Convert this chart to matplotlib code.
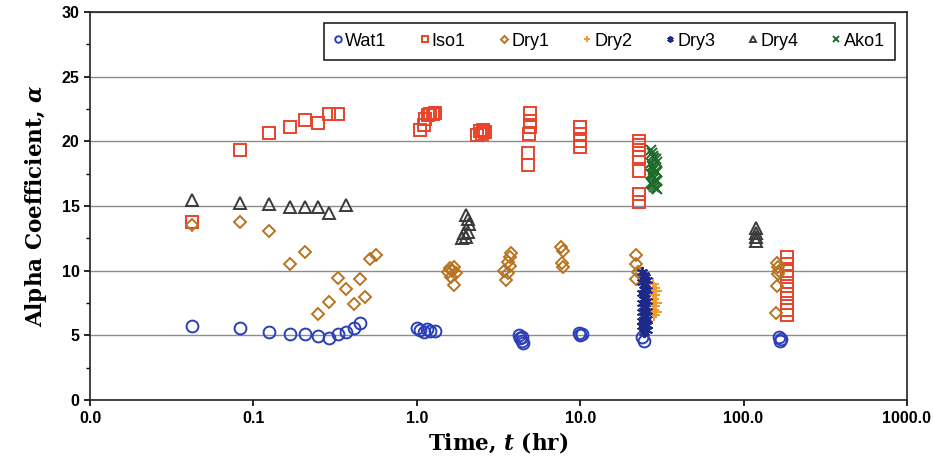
import numpy as np
import matplotlib
matplotlib.use("Agg")
import matplotlib.pyplot as plt
import matplotlib.ticker as mticker

plt.rcParams["mathtext.fontset"] = "dejavuserif"

# ---- data (time in hr, alpha) ----
wat1_t = [0.042, 0.083, 0.125, 0.167, 0.208, 0.25, 0.29, 0.33, 0.37, 0.41, 0.45,
          1.0, 1.05, 1.1, 1.15, 1.2, 1.3,
          4.2, 4.3, 4.4, 4.5, 4.4,
          9.8, 10.0, 10.2,
          24.0, 24.5,
          165, 168, 170]
wat1_a = [5.75, 5.6, 5.3, 5.15, 5.1, 4.95, 4.8, 5.15, 5.25, 5.55, 5.95,
          5.6, 5.45, 5.3, 5.5, 5.35, 5.35,
          5.0, 4.8, 4.6, 4.4, 4.9,
          5.2, 5.0, 5.1,
          4.9, 4.6,
          4.9, 4.6, 4.75]

iso1_t = [0.042, 0.083, 0.125, 0.167, 0.208, 0.25, 0.29, 0.33,
          1.05, 1.1, 1.12, 1.17, 1.2, 1.25, 1.3,
          2.35, 2.45, 2.5, 2.55, 2.6,
          4.9, 4.9, 4.9, 4.85, 4.8, 4.8,
          10.0, 10.0, 10.0, 10.0,
          23, 23, 23, 23, 23, 23, 23,
          185, 185, 185, 185, 185, 185, 185, 185, 185]
iso1_a = [13.8, 19.35, 20.65, 21.1, 21.65, 21.4, 22.15, 22.15,
          20.9, 21.3, 21.7, 22.0, 22.1, 22.1, 22.2,
          20.5, 20.8, 20.6, 20.9, 20.7,
          22.2, 21.6, 21.1, 20.6, 19.1, 18.2,
          21.1, 20.6, 20.0, 19.6,
          20.0, 19.7, 19.3, 18.8, 17.7, 15.9, 15.3,
          11.1, 10.5, 10.0, 9.5, 8.8, 8.2, 7.5, 7.0, 6.6]

dry1_t = [0.042, 0.083, 0.125, 0.167, 0.208, 0.25, 0.29, 0.33, 0.37, 0.41, 0.45, 0.48, 0.52, 0.56,
          1.55, 1.6, 1.65, 1.7, 1.75, 1.7, 1.62,
          3.4, 3.5, 3.6, 3.7, 3.8, 3.6, 3.7,
          7.6, 7.8, 7.7, 7.8,
          22, 22, 22.5, 22,
          160, 162, 165, 163, 160, 158]
dry1_a = [13.55, 13.8, 13.1, 10.5, 11.45, 6.65, 7.6, 9.45, 8.6, 7.4, 9.4, 7.95, 10.9, 11.2,
          9.9, 10.2, 10.0, 10.3, 9.8, 8.9, 9.5,
          10.0, 9.3, 10.7, 11.1, 11.4, 9.8, 10.4,
          11.8, 11.5, 10.6, 10.3,
          11.2, 10.5, 9.9, 9.4,
          10.6, 10.3, 10.0, 9.75, 8.85, 6.7]

dry2_t = [28, 28.5, 29, 28.5, 28, 29, 28.5, 28, 29, 28.5]
dry2_a = [9.0, 8.7, 8.4, 8.1, 7.8, 7.5, 7.3, 7.0, 6.8, 6.6]

dry3_t = [24, 24.5, 25, 25.5, 24, 24.5, 25, 25.5, 24, 24.5, 25, 25.5, 24, 24.5, 25,
          25.5, 24, 24.5, 25, 25.5, 24, 24.5, 25, 25.5, 24, 24.5, 25, 25.5, 24.5, 25]
dry3_a = [9.9, 9.7, 9.5, 9.3, 9.1, 8.9, 8.7, 8.5, 8.3, 8.1, 7.9, 7.7, 7.5, 7.3, 7.1,
          6.9, 6.8, 6.6, 6.4, 6.3, 6.1, 6.0, 5.9, 5.8, 5.7, 5.6, 5.5, 5.4, 5.3, 6.2]

dry4_t = [0.042, 0.083, 0.125, 0.167, 0.208, 0.25, 0.29, 0.37,
          2.0, 2.05, 2.1, 1.95, 1.9, 2.0, 2.05,
          120, 120, 120, 120]
dry4_a = [15.45, 15.25, 15.15, 14.95, 14.95, 14.95, 14.5, 15.1,
          14.3, 14.0, 13.6, 12.9, 12.5, 12.6, 13.0,
          13.3, 12.9, 12.6, 12.3]

ako1_t = [27, 27.5, 28, 28.5, 29, 29.5, 27, 27.5, 28, 28.5, 29, 29.5,
          27, 27.5, 28, 28.5, 29, 29.5, 27, 27.5, 28, 28.5, 29, 29.5, 28]
ako1_a = [19.3, 19.1, 18.9, 18.7, 18.6, 18.4, 18.3, 18.1, 18.0, 17.9, 17.7, 17.6,
          17.5, 17.4, 17.3, 17.2, 17.0, 16.9, 16.8, 16.7, 16.6, 16.5, 16.4, 16.3, 17.8]

series = [
    ("Wat1", wat1_t, wat1_a, "o", "#2a3fb8", 8.5),
    ("Iso1", iso1_t, iso1_a, "s", "#e8432b", 8.5),
    ("Dry1", dry1_t, dry1_a, "D", "#b87420", 6.5),
    ("Dry2", dry2_t, dry2_a, "+", "#f39a2a", 8),
    ("Dry3", dry3_t, dry3_a, (6, 2, 0), "#1e2a8a", 8),
    ("Dry4", dry4_t, dry4_a, "^", "#3a3a3a", 8.5),
    ("Ako1", ako1_t, ako1_a, "x", "#1f6b2c", 7),
]

fig = plt.figure(figsize=(9.33, 4.61), dpi=100)
ax = fig.add_axes([0.0965, 0.132, 0.8755, 0.842])

for name, t, a, mk, col, ms in series:
    ax.plot(t, a, linestyle="none", marker=mk, markersize=ms,
            markerfacecolor="none", markeredgecolor=col, markeredgewidth=1.4,
            color=col, label=name, zorder=3)

ax.set_xscale("log")
ax.set_xlim(0.01, 1000)
ax.set_ylim(0, 30)
ax.xaxis.set_major_locator(mticker.FixedLocator([0.01, 0.1, 1, 10, 100, 1000]))
ax.xaxis.set_minor_locator(mticker.NullLocator())
ax.xaxis.set_major_formatter(mticker.FuncFormatter(lambda v, p: f"{v:.1f}"))
ax.yaxis.set_major_locator(mticker.MultipleLocator(5))
ax.yaxis.set_minor_locator(mticker.MultipleLocator(2.5))

ax.grid(axis="y", which="major", color="#8c8c8c", linewidth=1.0, zorder=1)
ax.set_axisbelow(True)
for s in ax.spines.values():
    s.set_linewidth(1.2)
    s.set_color("#222222")

ax.tick_params(axis="both", which="major", direction="out", length=4, width=1.2,
               labelsize=11.5)
ax.tick_params(axis="y", which="minor", direction="out", length=3, width=1.0)
for lab in ax.get_xticklabels() + ax.get_yticklabels():
    lab.set_fontfamily("Liberation Sans")
    lab.set_fontweight("bold")

ax.set_xlabel(r"Time, $\boldsymbol{t}$ (hr)", fontfamily="DejaVu Serif",
              fontweight="bold", fontsize=15.5, labelpad=3)
ax.set_ylabel(r"Alpha Coefficient, $\boldsymbol{\alpha}$", fontfamily="DejaVu Serif",
              fontweight="bold", fontsize=15.5, labelpad=9)

leg = ax.legend(loc="upper right", bbox_to_anchor=(0.985, 0.972), borderaxespad=0,
                ncol=7, fancybox=False, framealpha=1, edgecolor="#222222",
                prop={"family": "Liberation Sans", "size": 13},
                markerscale=0.55, handlelength=0.5, handletextpad=0.15,
                columnspacing=1.85, borderpad=0.55)
leg.get_frame().set_linewidth(1.2)

fig.savefig("out.png", dpi=100, facecolor="white")
